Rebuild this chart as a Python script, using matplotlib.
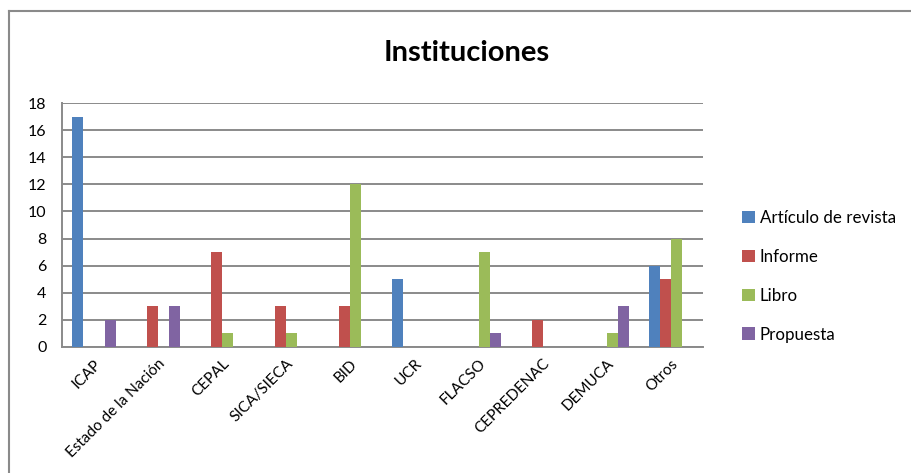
import matplotlib
matplotlib.use('agg')
import matplotlib.pyplot as plt
from matplotlib.lines import Line2D
import numpy as np

categories = ['ICAP', 'Estado de la Nación', 'CEPAL', 'SICA/SIECA', 'BID',
              'UCR', 'FLACSO', 'CEPREDENAC', 'DEMUCA', 'Otros']
series_names = ['Artículo de revista', 'Informe', 'Libro', 'Propuesta']
articulo = [17, 0, 0, 0, 0, 5, 0, 0, 0, 6]
informe = [0, 3, 7, 3, 3, 0, 0, 2, 0, 5]
libro = [0, 0, 1, 1, 12, 0, 7, 0, 1, 8]
propuesta = [2, 3, 0, 0, 0, 0, 1, 0, 3, 0]
colors = ['#4F81BD', '#C0504D', '#9BBB59', '#8064A2']

plt.rcParams['font.family'] = ['Lato', 'DejaVu Sans']

fig = plt.figure(figsize=(9.11, 4.73), dpi=100)
ax = fig.add_axes([0.068, 0.2664, 0.7036, 0.5158])

x = np.arange(len(categories))
width = 0.172
for i, (vals, name) in enumerate(zip([articulo, informe, libro, propuesta], series_names)):
    ax.bar(x + (i - 1.5) * width, vals, width, color=colors[i], label=name, zorder=3)

ax.set_xlim(-0.5, len(categories) - 0.5)
ax.set_ylim(0, 18)
ax.set_yticks(range(0, 19, 2))
ax.yaxis.grid(True, color='#8a8a8a', linewidth=1.4, zorder=0)
ax.set_axisbelow(True)
for s in ['top', 'right']:
    ax.spines[s].set_visible(False)
ax.spines['left'].set_color('#8a8a8a')
ax.spines['bottom'].set_color('#8a8a8a')
ax.spines['left'].set_linewidth(1.4)
ax.spines['bottom'].set_linewidth(1.4)
ax.tick_params(axis='y', length=0, labelsize=11.5, pad=11)
ax.tick_params(axis='x', length=0, pad=7)
ax.set_xticks(x)
ax.set_xticklabels(categories, rotation=45, ha='right', rotation_mode='anchor', fontsize=11)

fig.text(0.512, 0.887, 'Instituciones', ha='center', va='center', fontsize=21, fontweight='bold')

fig.legend(loc='center left', bbox_to_anchor=(0.807, 0.416), frameon=False,
           fontsize=12.2, handlelength=0.75, handleheight=0.75, handletextpad=0.3,
           labelspacing=1.35, borderaxespad=0)

# chart frame
fig.add_artist(Line2D([9 / 911, 1], [1 - 11 / 473, 1 - 11 / 473], transform=fig.transFigure,
                      color='#8a8a8a', linewidth=1.5))
fig.add_artist(Line2D([9 / 911, 9 / 911], [0, 1 - 11 / 473], transform=fig.transFigure,
                      color='#8a8a8a', linewidth=1.5))

plt.savefig('out.png', dpi=100)
